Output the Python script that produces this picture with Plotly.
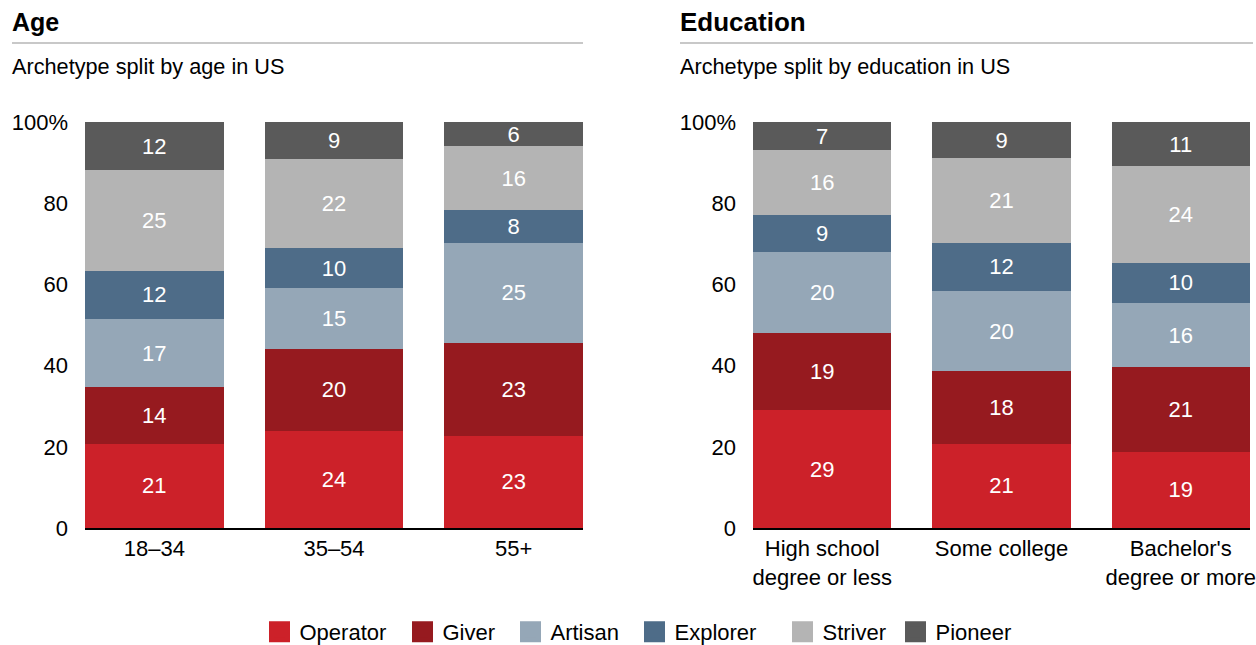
import plotly.graph_objects as go

W, H = 1256, 645

archetypes = ["Operator", "Giver", "Artisan", "Explorer", "Striver", "Pioneer"]
colors = ["#CC2129", "#961A1F", "#95A7B7", "#4E6C88", "#B4B4B4", "#5A5A5A"]

age_groups = ["18–34", "35–54", "55+"]
age_values = {
    "Operator": [21, 24, 23],
    "Giver": [14, 20, 23],
    "Artisan": [17, 15, 25],
    "Explorer": [12, 10, 8],
    "Striver": [25, 22, 16],
    "Pioneer": [12, 9, 6],
}

edu_groups = ["High school<br>degree or less", "Some college", "Bachelor's<br>degree or more"]
edu_values = {
    "Operator": [29, 21, 19],
    "Giver": [19, 18, 21],
    "Artisan": [20, 20, 16],
    "Explorer": [9, 12, 10],
    "Striver": [16, 21, 24],
    "Pioneer": [7, 9, 11],
}

y_ticks = [0, 20, 40, 60, 80, 100]
y_ticktext = ["0", "20", "40", "60", "80", "100%"]

FONT = "Liberation Sans, Arial, sans-serif"
FS = 22

fig = go.Figure()

def add_bars(groups, values, xa, ya):
    for name, col in zip(archetypes, colors):
        fig.add_trace(go.Bar(
            x=groups, y=values[name], name=name, marker_color=col,
            marker_line_width=0, text=values[name], texttemplate="%{text}",
            textposition="inside", insidetextanchor="middle", textangle=0,
            textfont=dict(color="white", size=FS, family=FONT),
            xaxis=xa, yaxis=ya, showlegend=False,
            constraintext="none", hoverinfo="skip",
        ))

add_bars(age_groups, age_values, "x", "y")
add_bars(edu_groups, edu_values, "x2", "y2")

def px_x(p):
    return p / W

def px_y(p):
    return 1 - p / H

# legend entries (square swatches), one legend box per entry
legend_centers = [279.5, 422.5, 530.5, 654.5, 802.5, 915.5]
legend_ids = ["legend", "legend2", "legend3", "legend4", "legend5", "legend6"]
legend_layouts = {}
for name, col, lid, cx in zip(archetypes, colors, legend_ids, legend_centers):
    fig.add_trace(go.Scatter(
        x=[None], y=[None], mode="markers", name=name, legend=lid,
        marker=dict(symbol="square", size=16, color=col,
                    line=dict(color=col, width=5)),
        xaxis="x", yaxis="y", showlegend=True, hoverinfo="skip",
    ))
    legend_layouts[lid] = dict(
        orientation="h", x=px_x(cx - 20), xanchor="left", y=px_y(632),
        yanchor="middle", font=dict(size=FS, family=FONT, color="black"),
        itemsizing="trace", bgcolor="rgba(0,0,0,0)", borderwidth=0,
        itemclick=False, itemdoubleclick=False,
    )

ydom = [px_y(528), px_y(122)]
xr = [-0.386, 2.386]

axis_common = dict(showgrid=False, zeroline=False, automargin=False,
                   tickfont=dict(size=FS, color="black", family=FONT))

fig.update_layout(
    width=W, height=H, autosize=False,
    margin=dict(l=0, r=0, t=0, b=0, autoexpand=False),
    paper_bgcolor="white", plot_bgcolor="white",
    barmode="stack", barnorm="percent", bargap=0.228,
    font=dict(family=FONT, color="black", size=FS),
    uniformtext=dict(minsize=FS, mode="show"),
    xaxis=dict(domain=[px_x(85), px_x(583)], range=xr, showline=True,
               linecolor="black", linewidth=2, ticks="", ticklabelstandoff=0,
               anchor="y", **axis_common),
    yaxis=dict(domain=ydom, range=[0, 100], tickvals=y_ticks, ticktext=y_ticktext,
               showline=False, ticks="", ticklabelstandoff=16, anchor="x",
               **axis_common),
    xaxis2=dict(domain=[px_x(753), px_x(1250)], range=xr, showline=True,
                linecolor="black", linewidth=2, ticks="", ticklabelstandoff=0,
                anchor="y2", **axis_common),
    yaxis2=dict(domain=ydom, range=[0, 100], tickvals=y_ticks, ticktext=y_ticktext,
                showline=False, ticks="", ticklabelstandoff=16, anchor="x2",
                **axis_common),
    showlegend=True,
    **legend_layouts,
)

annotations = [
    dict(text="<b>Age</b>", x=px_x(10), y=px_y(22), font=dict(size=25)),
    dict(text="Archetype split by age in US", x=px_x(10), y=px_y(66), font=dict(size=21.7)),
    dict(text="<b>Education</b>", x=px_x(678), y=px_y(22), font=dict(size=26)),
    dict(text="Archetype split by education in US", x=px_x(678), y=px_y(66), font=dict(size=21.7)),
]
for a in annotations:
    a.update(xref="paper", yref="paper", xanchor="left", yanchor="middle",
             showarrow=False)
    a["font"]["family"] = FONT
    a["font"]["color"] = "black"
fig.update_layout(annotations=annotations)

fig.update_layout(shapes=[
    dict(type="line", xref="paper", yref="paper", x0=px_x(12), x1=px_x(583),
         y0=px_y(43), y1=px_y(43), line=dict(color="#C8C8C8", width=2)),
    dict(type="line", xref="paper", yref="paper", x0=px_x(680), x1=px_x(1253),
         y0=px_y(43), y1=px_y(43), line=dict(color="#C8C8C8", width=2)),
])

fig.write_html("out.html", config={"displayModeBar": False, "responsive": False},
               default_width="1256px", default_height="645px",
               post_script="document.body.style.margin='0px';")
